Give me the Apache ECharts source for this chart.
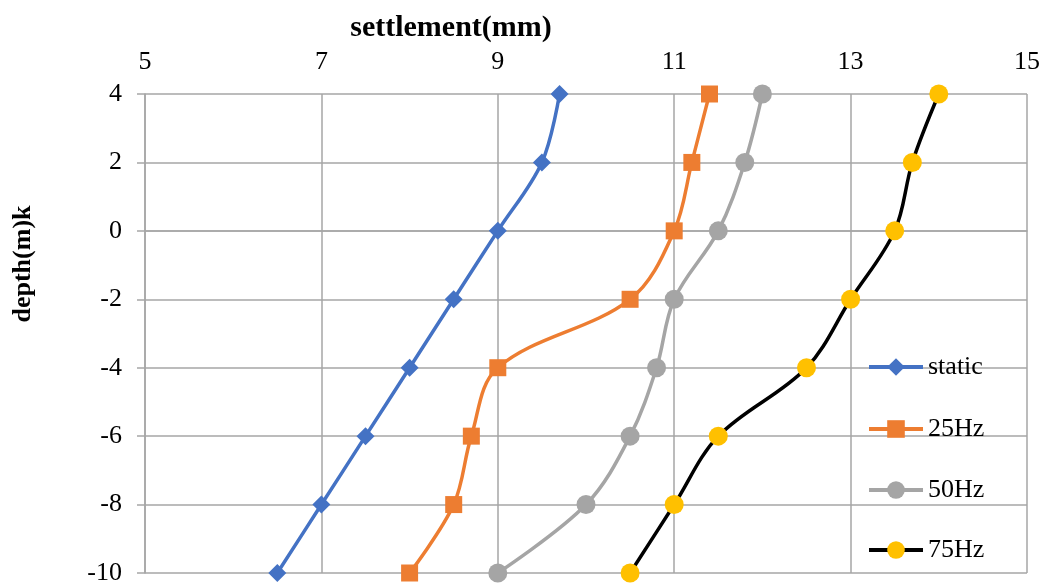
<!DOCTYPE html>
<html>
<head>
<meta charset="utf-8">
<script src="https://cdn.jsdelivr.net/npm/echarts@6/dist/echarts.min.js"></script>
<style>
  html, body { margin: 0; padding: 0; background: #fff; }
  #chart { width: 1043px; height: 586px; }
</style>
</head>
<body>
<div id="chart"></div>
<script>
// Depth levels (m) shared by every series
const depth = [4, 2, 0, -2, -4, -6, -8, -10];

// Settlement (mm) at each depth
const staticVals = [9.7, 9.5, 9.0, 8.5, 8.0, 7.5, 7.0, 6.5];
const hz25Vals   = [11.4, 11.2, 11.0, 10.5, 9.0, 8.7, 8.5, 8.0];
const hz50Vals   = [12.0, 11.8, 11.5, 11.0, 10.8, 10.5, 10.0, 9.0];
const hz75Vals   = [14.0, 13.7, 13.5, 13.0, 12.5, 11.5, 11.0, 10.5];

const seriesNames = ['static', '25Hz', '50Hz', '75Hz'];

const FONT = '"Liberation Serif", "Times New Roman", serif';
const GRID_COLOR = '#a6a6a6';

function pairs(vals) {
  return vals.map((v, i) => [v, depth[i]]);
}

function makeSeries(name, vals, lineColor, markColor, symbol, size) {
  return {
    name: name,
    type: 'line',
    data: pairs(vals),
    smooth: 0.35,
    symbol: symbol,
    symbolSize: size,
    lineStyle: { color: lineColor, width: 3.5 },
    itemStyle: { color: markColor, borderWidth: 0 },
    emphasis: { disabled: true },
    z: 3
  };
}

// One legend block per series, stacked down the right side of the plot
const legendCenters = [367, 429, 490, 550];
const legends = seriesNames.map((n, i) => ({
  data: [n],
  orient: 'vertical',
  left: 867,
  top: legendCenters[i] - 14,
  padding: 0,
  itemWidth: 54,
  itemHeight: 22,
  itemGap: 0,
  lineStyle: { width: 4 },
  textStyle: { fontFamily: FONT, fontSize: 26, color: '#000', lineHeight: 28 },
  selectedMode: false
}));

const option = {
  backgroundColor: '#fff',
  animation: false,
  grid: { left: 145, right: 16, top: 94, bottom: 13, containLabel: false },
  xAxis: {
    type: 'value',
    position: 'top',
    min: 5, max: 15, interval: 2,
    axisLine: { show: true, lineStyle: { color: GRID_COLOR, width: 1.5 } },
    axisTick: { show: false },
    axisLabel: { fontFamily: FONT, fontSize: 26, color: '#000', margin: 19 },
    splitLine: { show: true, lineStyle: { color: GRID_COLOR, width: 1.5 } }
  },
  yAxis: {
    type: 'value',
    min: -10, max: 4, interval: 2,
    axisLine: { show: true, onZero: false, lineStyle: { color: GRID_COLOR, width: 1.5 } },
    axisTick: { show: true, length: 8, lineStyle: { color: GRID_COLOR, width: 1.5 } },
    axisLabel: { fontFamily: FONT, fontSize: 26, color: '#000', margin: 23 },
    splitLine: { show: true, lineStyle: { color: GRID_COLOR, width: 1.5 } }
  },
  legend: legends,
  graphic: [
    {
      type: 'text',
      x: 451, y: 28,
      style: {
        text: 'settlement(mm)', font: 'bold 30px ' + FONT, fill: '#000',
        align: 'center', verticalAlign: 'middle'
      }
    },
    {
      type: 'text',
      x: 23, y: 264,
      rotation: Math.PI / 2,
      style: {
        text: 'depth(m)k', font: 'bold 26px ' + FONT, fill: '#000',
        align: 'center', verticalAlign: 'middle'
      }
    }
  ],
  series: [
    makeSeries('static', staticVals, '#4472c4', '#4472c4', 'diamond', 18),
    makeSeries('25Hz', hz25Vals, '#ed7d31', '#ed7d31', 'rect', 17),
    makeSeries('50Hz', hz50Vals, '#a5a5a5', '#a5a5a5', 'circle', 19),
    makeSeries('75Hz', hz75Vals, '#000000', '#ffc000', 'circle', 19)
  ]
};

const chart = echarts.init(document.getElementById('chart'), null, { renderer: 'canvas' });
chart.setOption(option);
</script>
</body>
</html>
